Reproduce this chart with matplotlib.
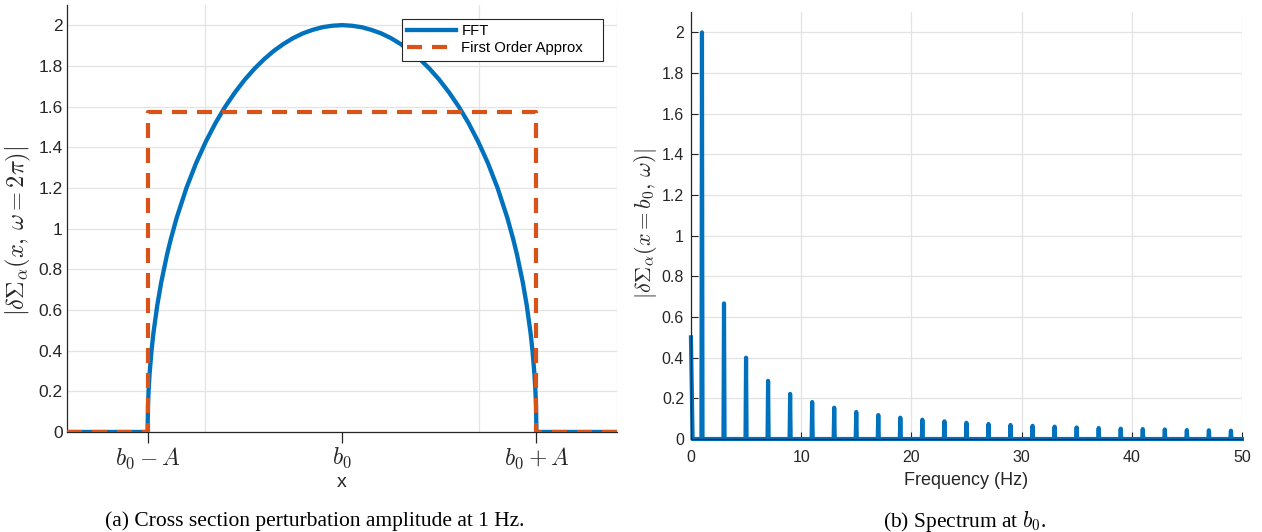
import matplotlib
matplotlib.use('Agg')
import matplotlib.pyplot as plt
import numpy as np
from matplotlib.ticker import FormatStrFormatter
from matplotlib.patches import Rectangle

plt.rcParams['font.family'] = ['Liberation Sans', 'DejaVu Sans']
plt.rcParams['mathtext.fontset'] = 'cm'

# colours (matlab defaults)
blue = '#0072BD'
orange = '#D95319'
dark = '#262626'
grid_col = '#e3e3e3'

# ---- data, panel (a) ----
A = 1.414               # half width of the perturbed band (x axis in grid units)
x_lim = [-2.0, 2.0]
# FFT amplitude profile, right half, position as fraction of A
prof_u = [0.0, 0.05, 0.1, 0.15, 0.2, 0.25, 0.3, 0.35, 0.4, 0.45, 0.5, 0.55,
          0.6, 0.65, 0.7, 0.75, 0.8, 0.85, 0.88, 0.9, 0.93, 0.95, 0.97,
          0.98, 0.99, 0.995, 0.998, 1.0]
prof_amp = [2.0, 1.997, 1.990, 1.977, 1.960, 1.937, 1.908, 1.874, 1.833,
            1.786, 1.732, 1.670, 1.600, 1.520, 1.428, 1.323, 1.200, 1.054,
            0.950, 0.872, 0.735, 0.624, 0.486, 0.398, 0.282, 0.200, 0.126,
            0.0]
approx_level = 1.571    # first order approximation, pi/2
xtick_labels = [r'$b_0-A$', r'$b_0$', r'$b_0+A$']

# ---- data, panel (b) ----
dc_amp = 0.5
peak_freqs = [1, 3, 5, 7, 9, 11, 13, 15, 17, 19, 21, 23, 25, 27, 29, 31, 33,
              35, 37, 39, 41, 43, 45, 47, 49]
peak_amps = [2.0, 0.667, 0.400, 0.286, 0.222, 0.182, 0.154, 0.133, 0.118,
             0.105, 0.095, 0.087, 0.080, 0.074, 0.069, 0.065, 0.061, 0.057,
             0.054, 0.051, 0.049, 0.047, 0.044, 0.043, 0.041]
f_max = 50


def style_axes(ax):
    for s in ['top', 'right']:
        ax.spines[s].set_visible(False)
    for s in ['left', 'bottom']:
        ax.spines[s].set_color(dark)
        ax.spines[s].set_linewidth(0.9)
    ax.tick_params(colors=dark)
    ax.set_axisbelow(True)


W, H = 1262, 532
fig = plt.figure(figsize=(W / 100, H / 100), dpi=100)

# ======== (a) cross section ========
ax1 = fig.add_axes([0.0531, 0.188, 0.4358, 0.803])
style_axes(ax1)

u = np.array(prof_u)
amp = np.array(prof_amp)
x_fft = np.concatenate([[x_lim[0]], -A * u[::-1], A * u[1:], [x_lim[1]]])
y_fft = np.concatenate([[0.0], amp[::-1], amp[1:], [0.0]])
ax1.plot(x_fft, y_fft, color=blue, lw=3.1, label='FFT', zorder=3)

x_app = [x_lim[0], -A, -A, A, A, x_lim[1]]
y_app = [0, 0, approx_level, approx_level, 0, 0]
ax1.plot(x_app, y_app, color=orange, lw=3.0, ls=(0, (3.6, 2.4)),
         label='First Order Approx', zorder=4)

ax1.set_xlim(x_lim)
ax1.set_ylim(0, 2.1)
ax1.set_yticks(np.arange(0, 2.01, 0.2))
ax1.yaxis.set_major_formatter(FormatStrFormatter('%g'))
ax1.set_xticks([-A, 0, A])
ax1.set_xticklabels(xtick_labels, fontsize=17)
ax1.set_xticks([-1, 0, 1, 2], minor=True)
ax1.tick_params(axis='x', which='major', direction='out', length=8, width=0.9,
                pad=2)
ax1.tick_params(axis='x', which='minor', length=0)
ax1.tick_params(axis='y', length=0, pad=3, labelsize=12.5)
ax1.grid(True, which='minor', axis='x', color=grid_col, lw=0.9)
ax1.grid(True, which='major', axis='y', color=grid_col, lw=0.9)
ax1.set_xlabel('x', fontsize=14, color=dark)
ax1.xaxis.label.set_va('center')
ax1.xaxis.set_label_coords(0.5, (432 - 482) / 427)
ax1.set_ylabel(r'$|\delta\Sigma_\alpha(x,\,\omega=2\pi)|$', fontsize=17.5,
               color=dark)
ax1.yaxis.label.set_va('center')
ax1.yaxis.set_label_coords((18 - 67) / 550, 0.47)

# legend: matlab style box, drawn as a plain rectangle in figure pixels
box = Rectangle((402 / W, 1 - 61 / H), 201 / W, 42 / H,
                transform=fig.transFigure, facecolor='white',
                edgecolor=dark, lw=0.8, zorder=6)
ax1.add_patch(box)
box.set_clip_on(False)
leg = ax1.legend(loc='upper left', bbox_to_anchor=(402 / W, 1 - 19 / H),
                 bbox_transform=fig.transFigure, borderaxespad=0,
                 fontsize=10.7, handlelength=3.3, handletextpad=0.35,
                 labelspacing=0.2, borderpad=0.35, frameon=False)
leg.set_zorder(7)

# ======== (b) spectrum ========
ax2 = fig.add_axes([0.5475, 0.1748, 0.4366, 0.8026])
style_axes(ax2)

hw = 0.05
xs = [0.0, 0.15]
ys = [dc_amp, 0.0]
for f, a in zip(peak_freqs, peak_amps):
    xs += [f - hw, f, f + hw]
    ys += [0.0, a, 0.0]
xs.append(f_max)
ys.append(0.0)
ax2.plot(xs, ys, color=blue, lw=3.0, solid_joinstyle='round', clip_on=False)

ax2.set_xlim(0, f_max)
ax2.set_ylim(0, 2.1)
ax2.set_xticks(np.arange(0, 51, 10))
ax2.set_yticks(np.arange(0, 2.01, 0.2))
ax2.yaxis.set_major_formatter(FormatStrFormatter('%g'))
ax2.tick_params(direction='in', length=5, width=0.8, labelsize=11.5)
ax2.tick_params(axis='x', pad=8)
ax2.tick_params(axis='y', pad=5)
ax2.grid(True, color=grid_col, lw=0.9)
ax2.set_xlabel('Frequency (Hz)', fontsize=13, color=dark)
ax2.xaxis.label.set_va('center')
ax2.xaxis.set_label_coords(0.5, (439 - 480) / 427)
ax2.set_ylabel(r'$|\delta\Sigma_\alpha(x=b_0,\,\omega)|$', fontsize=16,
               color=dark)
ax2.yaxis.label.set_va('center')
ax2.yaxis.set_label_coords((646 - 691) / 551, 0.505)

# captions
fig.text(315 / W, 1 - 521 / H, '(a) Cross section perturbation amplitude at 1 Hz.',
         ha='center', va='center', family='Liberation Serif', fontsize=15.5)
fig.text(965 / W, 1 - 521 / H, r'(b) Spectrum at $b_0$.',
         ha='center', va='center', family='Liberation Serif', fontsize=15.5)

fig.savefig('out.png', dpi=100)
